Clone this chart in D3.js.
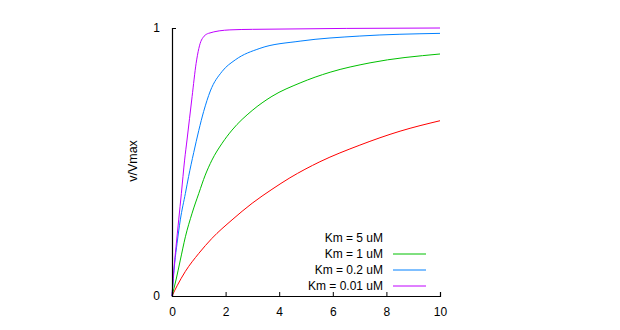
<!DOCTYPE html>
<html><head><meta charset="utf-8">
<script src="https://cdn.jsdelivr.net/npm/d3@7"></script>
<style>body{margin:0;background:#fff}svg{display:block}text{font-family:"Liberation Sans",Arial,sans-serif;fill:#000}</style>
</head><body>
<script>
const xTicks = [0, 2, 4, 6, 8, 10];
const yTicks = [0, 1];
const labels = ["Km = 5 uM", "Km = 1 uM", "Km = 0.2 uM", "Km = 0.01 uM"];
const colors = ["#ff0000", "#00c000", "#0080ff", "#c000ff"];
const showSample = [false, true, true, true];
// substrate concentration (x) and v/Vmax (y)
const xRed = [0, 0.19, 0.5, 1.0, 1.49, 2.24, 2.99, 3.73, 4.4, 5.52, 7.01, 8.51, 10];
const yRed = [0, 0.038, 0.092, 0.159, 0.215, 0.284, 0.346, 0.398, 0.441, 0.501, 0.563, 0.615, 0.654];
const xGreen = [0, 0.15, 0.31, 0.5, 0.75, 1.0, 1.24, 1.49, 1.87, 2.24, 2.99, 3.73, 4.78, 5.9, 7.39, 10];
const yGreen = [0, 0.06, 0.134, 0.221, 0.309, 0.383, 0.451, 0.507, 0.57, 0.619, 0.692, 0.745, 0.795, 0.835, 0.870, 0.903];
const xBlue = [0, 0.1, 0.19, 0.31, 0.5, 0.62, 0.81, 1.0, 1.18, 1.43, 1.87, 2.36, 3.28, 4.78, 7.01, 10];
const yBlue = [0, 0.122, 0.197, 0.284, 0.383, 0.446, 0.535, 0.618, 0.688, 0.765, 0.838, 0.881, 0.924, 0.951, 0.970, 0.98];
const xPurple = [0, 0.06, 0.15, 0.25, 0.35, 0.47, 0.56, 0.75, 0.9, 1.1, 1.36, 2.16, 3, 10];
const yPurple = [0, 0.085, 0.184, 0.284, 0.383, 0.507, 0.582, 0.744, 0.868, 0.955, 0.98, 0.993, 0.995, 1.0];

const seriesX = [xRed, xGreen, xBlue, xPurple];
const seriesY = [yRed, yGreen, yBlue, yPurple];

const W = 620, H = 330;
const svg = d3.select("body").append("svg").attr("width", W).attr("height", H);
const x = d3.scaleLinear().domain([0, 10]).range([172, 440]);
const y = d3.scaleLinear().domain([0, 1]).range([296, 28]);

const line = d3.line().x(d => x(d[0])).y(d => y(d[1])).curve(d3.curveMonotoneX);
seriesX.forEach((xs, i) => {
  const pts = xs.map((v, j) => [v, seriesY[i][j]]);
  svg.append("path").datum(pts).attr("d", line)
    .attr("fill", "none").attr("stroke", colors[i]).attr("stroke-width", 1);
});

const xAxis = d3.axisBottom(x).tickValues(xTicks).tickSize(-4).tickPadding(11).tickFormat(d3.format("d"));
const gx = svg.append("g").attr("transform", "translate(0,296)").call(xAxis);
const yAxis = d3.axisLeft(y).tickValues(yTicks).tickSize(-4).tickPadding(12).tickFormat(d3.format("d"));
const gy = svg.append("g").attr("transform", "translate(172,0)").call(yAxis);
[gx, gy].forEach(g => {
  g.select(".domain").attr("stroke", "#000").attr("stroke-width", 1.2);
  g.selectAll(".tick line").attr("stroke", "#000");
  g.selectAll("text").attr("font-size", 12).attr("font-family", "Liberation Sans, Arial, sans-serif").attr("fill", "#000");
});
svg.append("text").attr("transform", "translate(133,161) rotate(-90)")
  .attr("text-anchor", "middle").attr("dy", "0.35em").attr("font-size", 12.5).text("v/Vmax");

const legY = [238, 254, 270, 286];
labels.forEach((t, i) => {
  svg.append("text").attr("x", 383).attr("y", legY[i]).attr("dy", "0.35em")
    .attr("text-anchor", "end").attr("font-size", 12).text(t);
  if (showSample[i]) {
    svg.append("line").attr("x1", 393).attr("x2", 426).attr("y1", legY[i]).attr("y2", legY[i])
      .attr("stroke", colors[i]).attr("stroke-width", 1);
  }
});
</script>
</body></html>
